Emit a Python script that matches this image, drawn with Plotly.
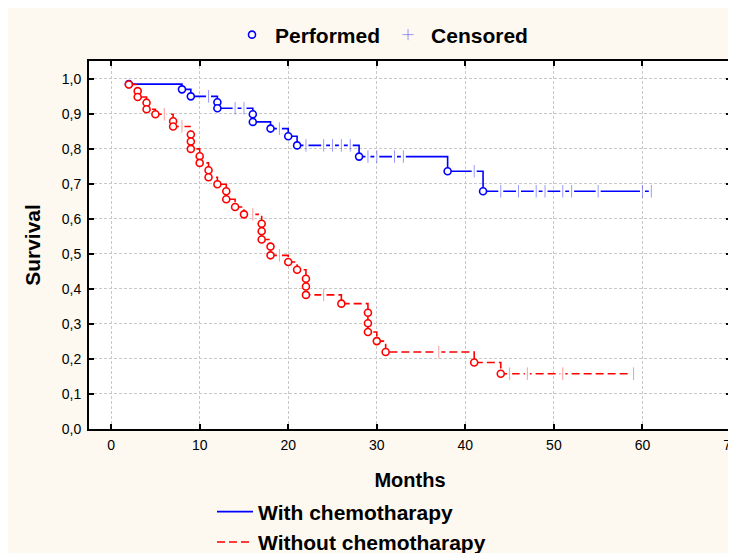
import plotly.graph_objects as go

# ---- data ----
blue_event_t = [2, 8, 9, 12, 12, 16, 16, 18, 20, 21, 28, 38, 42]
blue_event_s = [0.985, 0.970, 0.950, 0.933, 0.916, 0.899, 0.877, 0.858, 0.836, 0.810, 0.778, 0.736, 0.679]
blue_cens_t = [11, 14, 15, 19, 22, 24, 25, 26, 27, 29, 30, 32, 33, 41, 44, 46, 48, 49, 51, 52, 55, 60, 61]
blue_cens_s = [0.950, 0.916, 0.916, 0.858, 0.810, 0.810, 0.810, 0.810, 0.810, 0.778, 0.778, 0.778, 0.778,
               0.736, 0.679, 0.679, 0.679, 0.679, 0.679, 0.679, 0.679, 0.679, 0.679]

red_event_t = [2, 3, 3, 4, 4, 5, 7, 7, 9, 9, 9, 10, 10, 11, 11, 12, 13, 13, 14, 15, 17, 17, 17, 18, 18,
               20, 21, 22, 22, 22, 26, 29, 29, 29, 30, 31, 41, 44]
red_event_s = [0.984, 0.965, 0.948, 0.932, 0.913, 0.899, 0.879, 0.864, 0.841, 0.821, 0.800, 0.779, 0.760,
               0.739, 0.719, 0.699, 0.679, 0.656, 0.634, 0.613, 0.586, 0.565, 0.541, 0.521, 0.496,
               0.477, 0.455, 0.429, 0.407, 0.383, 0.358, 0.332, 0.302, 0.277, 0.251, 0.220, 0.190, 0.158]
red_cens_t = [6, 8, 16, 19, 24, 37, 45, 47, 51, 59]
red_cens_s = [0.899, 0.864, 0.613, 0.496, 0.383, 0.220, 0.158, 0.158, 0.158, 0.158]

x_ticks = [0, 10, 20, 30, 40, 50, 60, 70]
y_ticks = [0.0, 0.1, 0.2, 0.3, 0.4, 0.5, 0.6, 0.7, 0.8, 0.9, 1.0]
y_tick_labels = ["0,0", "0,1", "0,2", "0,3", "0,4", "0,5", "0,6", "0,7", "0,8", "0,9", "1,0"]

BLUE = "#0000ff"
RED = "#ff0000"
BLUE_L = "rgba(0,0,255,0.4)"
RED_L = "rgba(255,0,0,0.4)"
FONT = "Liberation Sans, Arial, sans-serif"

# figure geometry (pixels) used for placing legends
W, H = 736, 553
L, R, T, B = 81, 13, 53, 132
PW, PH = W - L - R, H - T - B

fig = go.Figure()


def add_group(ev_t, ev_s, c_t, c_s, color, light, dash, name):
    xs = list(ev_t) + [max(c_t + ev_t)]
    ys = list(ev_s) + [ev_s[-1]]
    fig.add_trace(go.Scatter(x=xs, y=ys, mode="lines", line=dict(color=color, width=1.6, dash=dash, shape="hv"),
                             name=name, legend="legend2", showlegend=True, hoverinfo="skip"))
    fig.add_trace(go.Scatter(x=c_t, y=c_s, mode="markers",
                             marker=dict(symbol="square", size=5, color="white", line=dict(width=0)),
                             showlegend=False, hoverinfo="skip"))
    fig.add_trace(go.Scatter(x=c_t, y=c_s, mode="markers",
                             marker=dict(symbol="line-ns", size=9, line=dict(color=light, width=1)),
                             showlegend=False, hoverinfo="skip"))
    fig.add_trace(go.Scatter(x=ev_t, y=ev_s, mode="markers",
                             marker=dict(symbol="circle", size=7, color="white", line=dict(color=color, width=1.6)),
                             showlegend=False, hoverinfo="skip"))


add_group(blue_event_t, blue_event_s, blue_cens_t, blue_cens_s, BLUE, BLUE_L, "solid", "With chemotharapy")
add_group(red_event_t, red_event_s, red_cens_t, red_cens_s, RED, RED_L, "8px,4px", "Without chemotharapy")

fig.add_trace(go.Scatter(x=[None], y=[None], mode="markers", name="Performed", legend="legend",
                         marker=dict(symbol="circle", size=7, color="white", line=dict(color=BLUE, width=1.6))))
fig.add_trace(go.Scatter(x=[None], y=[None], mode="markers", name="Censored", legend="legend",
                         marker=dict(symbol="cross-thin", size=8, line=dict(color=BLUE_L, width=1))))

axis_common = dict(showline=True, linecolor="black", linewidth=2, mirror="ticks", ticks="inside",
                   ticklen=5, tickwidth=1.5, tickcolor="black", showgrid=True, gridcolor="#c8c8c8",
                   griddash="3px,2px", gridwidth=1, zeroline=False, ticklabeloverflow="allow",
                   tickfont=dict(family=FONT, size=14, color="black"))

fig.update_layout(
    width=W, height=H,
    margin=dict(l=L, r=R, t=T, b=B, autoexpand=False),
    paper_bgcolor="#fdf9f0", plot_bgcolor="white",
    font=dict(family=FONT, color="black"),
    xaxis=dict(range=[-2.5, 70], tickvals=x_ticks, ticklabelstandoff=2,
               title=dict(text="<b>Months</b>", font=dict(size=20, family=FONT), standoff=21),
               **axis_common),
    yaxis=dict(range=[0, 1.051], tickvals=y_ticks, ticktext=y_tick_labels, ticklabelstandoff=3,
               title=dict(text="<b>Survival</b>", font=dict(size=21, family=FONT), standoff=15),
               **axis_common),
    legend=dict(orientation="h", x=(373 - L) / PW, xanchor="center",
                y=(H - B - 27) / PH, yanchor="middle", bgcolor="rgba(0,0,0,0)",
                font=dict(size=21, family=FONT), itemwidth=36),
    legend2=dict(orientation="v", x=(204 - L) / PW, xanchor="left",
                 y=(H - B - 519) / PH, yanchor="middle", bgcolor="rgba(0,0,0,0)",
                 font=dict(size=21, family=FONT), tracegroupgap=0, itemwidth=36),
    showlegend=True,
)
fig.for_each_trace(lambda t: t.update(name=f"<b>{t.name}</b>") if t.name else None)

fig.write_html("out.html")
